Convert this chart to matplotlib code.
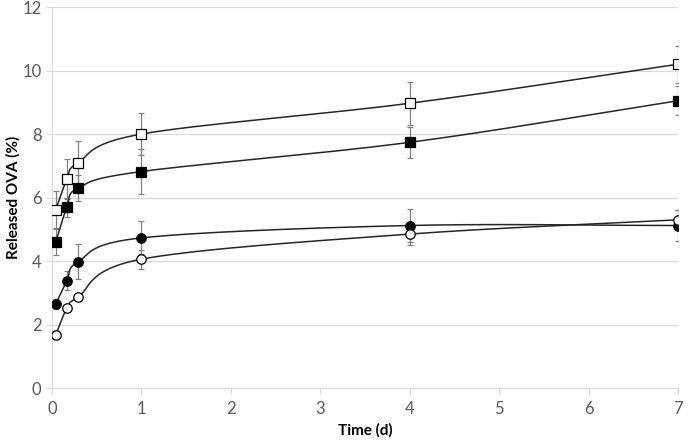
import numpy as np
import matplotlib
matplotlib.use('Agg')
import matplotlib.pyplot as plt

plt.rcParams['font.family'] = ['Lato', 'DejaVu Sans']

# time points (d): 1 h, 4 h, 7 h, 1 d, 4 d, 7 d
time_d = [0.042, 0.167, 0.292, 1, 4, 7]

open_sq = [5.62, 6.58, 7.10, 8.00, 8.97, 10.20]
open_sq_err = [0.58, 0.64, 0.68, 0.65, 0.68, 0.58]
fill_sq = [4.60, 5.70, 6.30, 6.82, 7.74, 9.05]
fill_sq_err = [0.40, 0.30, 0.40, 0.70, 0.49, 0.45]
fill_ci = [2.65, 3.38, 3.98, 4.73, 5.12, 5.12]
fill_ci_err = [0.15, 0.30, 0.55, 0.52, 0.53, 0.50]
open_ci = [1.68, 2.52, 2.87, 4.06, 4.85, 5.30]
open_ci_err = [0.12, 0.10, 0.10, 0.30, 0.34, 0.30]


def smooth(x, y, n=40):
    # Catmull-Rom style smoothing, like Excel "smoothed line"
    x = np.asarray(x, float)
    y = np.asarray(y, float)
    px = np.concatenate([[2 * x[0] - x[1]], x, [2 * x[-1] - x[-2]]])
    py = np.concatenate([[2 * y[0] - y[1]], y, [2 * y[-1] - y[-2]]])
    xs, ys = [], []
    t = np.linspace(0, 1, n)
    for i in range(1, len(px) - 2):
        p0, p1, p2, p3 = [np.array([px[j], py[j]]) for j in range(i - 1, i + 3)]
        c1 = p1 + (p2 - p0) / 6
        c2 = p2 - (p3 - p1) / 6
        b = ((1 - t) ** 3)[:, None] * p1 + (3 * (1 - t) ** 2 * t)[:, None] * c1 \
            + (3 * (1 - t) * t ** 2)[:, None] * c2 + (t ** 3)[:, None] * p2
        xs.extend(b[:, 0])
        ys.extend(b[:, 1])
    return xs, ys


fig = plt.figure(figsize=(6.88, 4.40), dpi=100)
ax = fig.add_axes([0.0756, 0.118, 0.910, 0.866])

series = [
    (open_sq, open_sq_err, 's', 'white'),
    (fill_sq, fill_sq_err, 's', 'black'),
    (fill_ci, fill_ci_err, 'o', 'black'),
    (open_ci, open_ci_err, 'o', 'white'),
]

for vals, err, mk, fc in series:
    ax.errorbar(time_d, vals, yerr=err, fmt='none', ecolor='#808080',
                elinewidth=0.9, capsize=2, capthick=0.9, zorder=2)
for vals, err, mk, fc in series:
    sx, sy = smooth(time_d, vals)
    ax.plot(sx, sy, color='#262626', lw=1.1, zorder=3)
for vals, err, mk, fc in series:
    ax.plot(time_d, vals, linestyle='none', marker=mk, markersize=6.8,
            markerfacecolor=fc, markeredgecolor='black', markeredgewidth=0.9, zorder=4)

ax.set_xlim(0, 7)
ax.set_ylim(0, 12)
ax.set_xticks(range(0, 8))
ax.set_yticks(range(0, 13, 2))
ax.yaxis.grid(True, color='#d9d9d9', lw=0.9)
ax.set_axisbelow(True)
for s in ['top', 'right']:
    ax.spines[s].set_visible(False)
for s in ['left', 'bottom']:
    ax.spines[s].set_color('#d9d9d9')
ax.tick_params(axis='both', colors='#d9d9d9', labelcolor='#595959', labelsize=12, length=4)
ax.tick_params(axis='x', pad=5)
ax.set_xlabel('Time (d)', fontsize=11, fontweight='bold', color='black')
ax.set_ylabel('Released OVA (%)', fontsize=11, fontweight='bold', color='black')
ax.xaxis.set_label_coords(0.5, -0.093)
ax.yaxis.set_label_coords(-0.05, 0.5)

fig.savefig('out.png', dpi=100)
